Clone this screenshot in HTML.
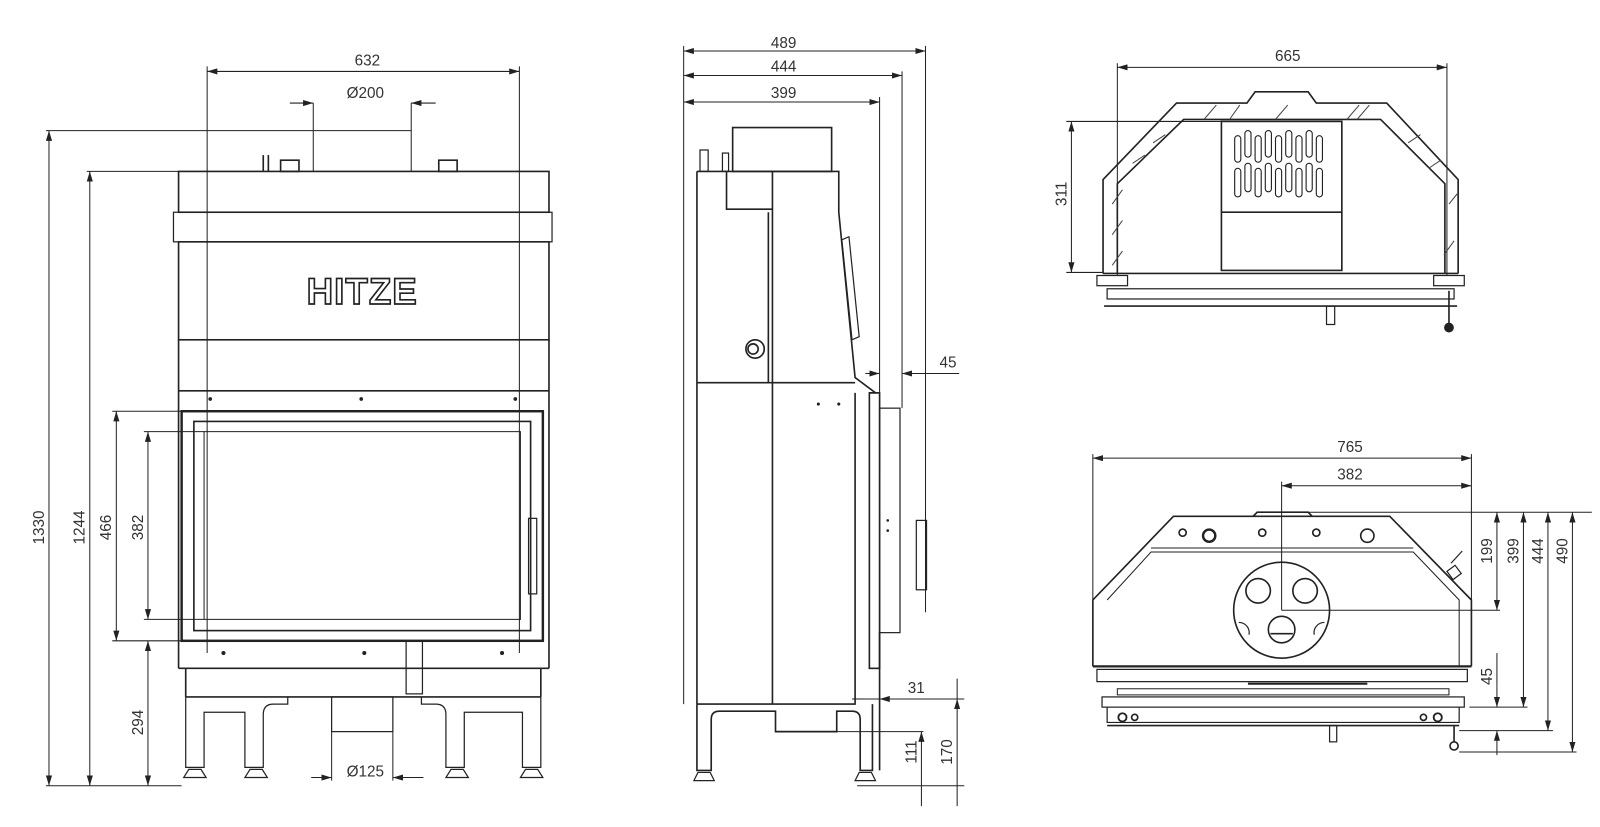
<!DOCTYPE html>
<html><head><meta charset="utf-8"><style>
html,body{margin:0;padding:0;background:#fff;width:1600px;height:827px;overflow:hidden}
svg{display:block}
text{font-family:"Liberation Sans",sans-serif;font-size:15px;fill:#333}
</style></head><body>
<svg width="1600" height="827" viewBox="0 0 1600 827" xmlns="http://www.w3.org/2000/svg">
<defs>
<marker id="a" viewBox="0 0 10 6" refX="10" refY="3" markerWidth="10" markerHeight="6" orient="auto-start-reverse" markerUnits="userSpaceOnUse"><path d="M0,0 L10,3 L0,6z" fill="#222"/></marker>
</defs>
<g transform="scale(1.0204)" fill="none" stroke="#222" stroke-width="1">
<!-- ============ FRONT VIEW ============ -->
<g stroke-width="1">
<!-- dims -->
<line x1="203" y1="70" x2="509" y2="70" marker-start="url(#a)" marker-end="url(#a)"/>
<line x1="203" y1="65" x2="203" y2="640"/><line x1="509" y1="65" x2="509" y2="640"/>
<line x1="284" y1="101" x2="307" y2="101" marker-end="url(#a)"/><line x1="427" y1="101" x2="403" y2="101" marker-end="url(#a)"/>
<line x1="307" y1="101" x2="307" y2="168"/><line x1="403" y1="101" x2="403" y2="168"/>
<line x1="45" y1="128" x2="403" y2="128"/>
<line x1="48" y1="128" x2="48" y2="770" marker-start="url(#a)" marker-end="url(#a)"/>
<line x1="85" y1="168" x2="175" y2="168"/>
<line x1="88" y1="168" x2="88" y2="770" marker-start="url(#a)" marker-end="url(#a)"/>
<line x1="45" y1="770" x2="178" y2="770"/>
<line x1="114" y1="403" x2="114" y2="628" marker-start="url(#a)" marker-end="url(#a)"/>
<line x1="110" y1="403" x2="182" y2="403"/><line x1="110" y1="628" x2="182" y2="628"/>
<line x1="145" y1="423" x2="145" y2="607" marker-start="url(#a)" marker-end="url(#a)"/>
<line x1="141" y1="423" x2="200" y2="423"/><line x1="141" y1="607" x2="200" y2="607"/>
<line x1="145" y1="628" x2="145" y2="770" marker-start="url(#a)" marker-end="url(#a)"/>
<line x1="305" y1="762" x2="325" y2="762" marker-end="url(#a)"/><line x1="415" y1="762" x2="385" y2="762" marker-end="url(#a)"/>
<line x1="325" y1="717" x2="325" y2="765"/><line x1="385" y1="717" x2="385" y2="765"/>
</g>
<g stroke-width="1.6">
<rect x="175" y="168" width="363" height="40"/>
<rect x="170" y="208" width="371" height="29" stroke-width="1.2"/>
<rect x="175" y="237" width="363" height="96"/>
<line x1="175" y1="333" x2="175" y2="655"/><line x1="538" y1="333" x2="538" y2="655"/>
<line x1="175" y1="383" x2="538" y2="383"/>
<line x1="175" y1="655" x2="538" y2="655"/>
<rect x="178" y="403" width="354" height="225" stroke-width="2.4"/>
<rect x="190" y="413" width="330" height="205"/>
<rect x="200" y="423" width="310" height="184" stroke-width="1"/>
<rect x="518" y="508" width="8" height="74" stroke-width="1.2"/>
<line x1="182" y1="655" x2="182" y2="683"/><line x1="530" y1="655" x2="530" y2="683"/>
<line x1="182" y1="683" x2="530" y2="683"/>
<rect x="398" y="628" width="16" height="52" stroke-width="1.2"/>
<path d="M182 683 V752 H200 V698 H240 V752 H258 V700 Q258 690 268 690 H282 V683" stroke-width="1.2"/>
<path d="M530 683 V752 H512 V698 H455 V752 H437 V700 Q437 690 427 690 H413 V683" stroke-width="1.2"/>
<rect x="325" y="683" width="60" height="34" stroke-width="1.2"/>
<path d="M180 762 l5 -8 h12 l5 8z M240 762 l5 -8 h12 l5 8z M437 762 l5 -8 h12 l5 8z M510 762 l5 -8 h12 l5 8z" stroke-width="1.2"/>
<line x1="258" y1="152" x2="258" y2="168"/><line x1="263" y1="152" x2="263" y2="168"/>
<rect x="275" y="157" width="18" height="11"/><rect x="430" y="157" width="18" height="11"/>
</g>
<g fill="#222" stroke="none">
<circle cx="206" cy="391" r="1.8"/><circle cx="354" cy="391" r="1.8"/><circle cx="505" cy="391" r="1.8"/>
<circle cx="219" cy="640" r="2"/><circle cx="357" cy="640" r="2"/><circle cx="492" cy="640" r="2"/>
</g>
<text x="355" y="298" text-anchor="middle" style="font-size:36px;font-weight:bold;fill:#fff;stroke:#222;stroke-width:1.6;letter-spacing:1px">HITZE</text>
<!-- ============ SIDE VIEW ============ -->
<g stroke-width="1">
<line x1="670" y1="50" x2="907" y2="50" marker-start="url(#a)" marker-end="url(#a)"/>
<line x1="670" y1="74" x2="884" y2="74" marker-start="url(#a)" marker-end="url(#a)"/>
<line x1="670" y1="100" x2="862" y2="100" marker-start="url(#a)" marker-end="url(#a)"/>
<line x1="670" y1="45" x2="670" y2="690"/>
<line x1="907" y1="45" x2="907" y2="600"/>
<line x1="884" y1="70" x2="884" y2="400"/>
<line x1="862" y1="95" x2="862" y2="460"/>
<line x1="848" y1="366" x2="862" y2="366" marker-end="url(#a)"/><line x1="940" y1="366" x2="884" y2="366" marker-end="url(#a)"/>
<line x1="840" y1="685" x2="848" y2="685"/><line x1="915" y1="685" x2="862" y2="685" marker-end="url(#a)"/>
<line x1="835" y1="685" x2="945" y2="685"/>
<line x1="820" y1="717" x2="905" y2="717"/>
<line x1="840" y1="770" x2="945" y2="770"/>
<line x1="903" y1="717" x2="903" y2="790" marker-start="url(#a)"/>
<line x1="938" y1="665" x2="938" y2="685" /><line x1="938" y1="685" x2="938" y2="790" marker-start="url(#a)"/>
</g>
<g stroke-width="1.6">
<rect x="718" y="125" width="97" height="43"/>
<rect x="686" y="147" width="8" height="21" stroke-width="1.2"/><rect x="708" y="150" width="6" height="18" stroke-width="1.2"/>
<path d="M683 168 H822 V208 L838 370 L858 385 H852"/>
<path d="M712 168 V205 H757"/><line x1="757" y1="168" x2="757" y2="690"/><line x1="753" y1="208" x2="753" y2="375"/>
<line x1="683" y1="168" x2="683" y2="690"/>
<line x1="683" y1="375" x2="838" y2="375"/>
<path d="M683 690 H838 V385"/>
<rect x="852" y="385" width="10" height="270"/>
<rect x="862" y="400" width="20" height="220" stroke-width="1.2"/>
<rect x="898" y="510" width="10" height="68" stroke-width="1.2"/>
<path d="M825 235 L832 232 L842 330 L835 333z" stroke-width="1.2"/>
<circle cx="740" cy="342" r="9"/><circle cx="738" cy="342" r="5"/>
<path d="M683 690 V755 H697 V705 Q697 697 705 697 H760 V717 H820 V697 H835 Q843 697 843 705 V755 H855 V690"/>
<path d="M680 765 l4 -8 h12 l4 8z M838 765 l4 -8 h12 l4 8z" stroke-width="1.2"/>
<line x1="862" y1="620" x2="862" y2="755"/>
</g>
<g fill="#222" stroke="none"><circle cx="802" cy="396" r="1.5"/><circle cx="822" cy="396" r="1.5"/><circle cx="870" cy="510" r="1.3"/><circle cx="870" cy="520" r="1.3"/></g>
<!-- ============ TOP VIEW ============ -->
<g stroke-width="1">
<line x1="1095" y1="66" x2="1418" y2="66" marker-start="url(#a)" marker-end="url(#a)"/>
<line x1="1095" y1="62" x2="1095" y2="270"/><line x1="1418" y1="62" x2="1418" y2="270"/>
<line x1="1045" y1="119" x2="1197" y2="119"/><line x1="1045" y1="267" x2="1081" y2="267"/>
<line x1="1050" y1="119" x2="1050" y2="267" marker-start="url(#a)" marker-end="url(#a)"/>
</g>
<g stroke-width="1.6">
<path d="M1081 268 V176 L1153 101 H1222 L1230 90 H1282 L1290 101 H1359 L1429 176 V268"/>
<path d="M1095 268 V180 L1160 117 H1353 L1416 180 V268"/>
<rect x="1197" y="119" width="118" height="146"/>
<line x1="1197" y1="208" x2="1315" y2="208"/>
<line x1="1081" y1="268" x2="1429" y2="268"/>
<rect x="1075" y="270" width="30" height="10" stroke-width="1.2"/><rect x="1405" y="270" width="30" height="10" stroke-width="1.2"/>
<rect x="1085" y="283" width="340" height="10" stroke-width="1.2"/>
<line x1="1082" y1="300" x2="1428" y2="300"/>
<rect x="1300" y="300" width="8" height="18" stroke-width="1.2"/>
<line x1="1420" y1="285" x2="1420" y2="318"/><circle cx="1420" cy="321" r="4" fill="#222"/>
</g>
<g stroke-width="1" stroke="#444">
<path d="M1090 260 l10 -14 M1090 230 l10 -14 M1090 200 l10 -14 M1180 117 l12 -14 M1250 117 l12 -14 M1320 117 l12 -14 M1330 117 l12 -14 M1205 117 l10 -14 M1415 250 l10 -14 M1420 200 l8 -10 M1400 165 l12 -8 M1380 140 l12 -8 M1110 160 l12 -8 M1130 140 l12 -8"/>
</g>
<g stroke-width="1.1">
<rect x="1210" y="133" width="6" height="26" rx="3"/><rect x="1220" y="128" width="6" height="26" rx="3"/><rect x="1230" y="133" width="6" height="26" rx="3"/><rect x="1240" y="128" width="6" height="26" rx="3"/><rect x="1250" y="133" width="6" height="26" rx="3"/><rect x="1260" y="128" width="6" height="26" rx="3"/><rect x="1270" y="133" width="6" height="26" rx="3"/><rect x="1280" y="128" width="6" height="26" rx="3"/><rect x="1290" y="133" width="6" height="26" rx="3"/>
<rect x="1210" y="165" width="6" height="28" rx="3"/><rect x="1220" y="160" width="6" height="28" rx="3"/><rect x="1230" y="165" width="6" height="28" rx="3"/><rect x="1240" y="160" width="6" height="28" rx="3"/><rect x="1250" y="165" width="6" height="28" rx="3"/><rect x="1260" y="160" width="6" height="28" rx="3"/><rect x="1270" y="165" width="6" height="28" rx="3"/><rect x="1280" y="160" width="6" height="28" rx="3"/><rect x="1290" y="165" width="6" height="28" rx="3"/>
</g>
<!-- ============ BOTTOM VIEW ============ -->
<g stroke-width="1">
<line x1="1071" y1="449" x2="1442" y2="449" marker-start="url(#a)" marker-end="url(#a)"/>
<line x1="1071" y1="445" x2="1071" y2="588"/><line x1="1442" y1="445" x2="1442" y2="588"/>
<line x1="1256" y1="476" x2="1442" y2="476" marker-start="url(#a)" marker-end="url(#a)"/>
<line x1="1256" y1="472" x2="1256" y2="598"/>
<line x1="1260" y1="502" x2="1560" y2="502"/>
<line x1="1256" y1="598" x2="1470" y2="598"/>
<line x1="1467" y1="502" x2="1467" y2="598" marker-start="url(#a)" marker-end="url(#a)"/>
<line x1="1440" y1="693" x2="1497" y2="693"/>
<line x1="1493" y1="502" x2="1493" y2="693" marker-start="url(#a)" marker-end="url(#a)"/>
<line x1="1430" y1="716" x2="1522" y2="716"/>
<line x1="1517" y1="502" x2="1517" y2="716" marker-start="url(#a)" marker-end="url(#a)"/>
<line x1="1430" y1="737" x2="1545" y2="737"/>
<line x1="1541" y1="502" x2="1541" y2="737" marker-start="url(#a)" marker-end="url(#a)"/>
<line x1="1467" y1="640" x2="1467" y2="673" /><line x1="1467" y1="673" x2="1467" y2="693" marker-end="url(#a)"/><line x1="1467" y1="740" x2="1467" y2="716" marker-end="url(#a)"/>
</g>
<g stroke-width="1.6">
<path d="M1228 506 L1232 502 H1282 L1286 506"/>
<path d="M1071 653 V588 L1150 506 H1362 L1442 588 V653"/>
<path d="M1085 588 L1128 541 H1385 L1430 588 V653" stroke-width="1"/>
<line x1="1128" y1="537" x2="1385" y2="537" stroke-width="1"/>
<circle cx="1256" cy="598" r="47"/>
<circle cx="1233" cy="579" r="12"/><circle cx="1279" cy="579" r="12"/><circle cx="1256" cy="617" r="13"/>
<path d="M1245 621 H1267" />
<path d="M1214 610 a10 10 0 0 1 10 12 M1298 610 a10 10 0 0 0 -10 12" stroke-width="1.2"/>
<circle cx="1159" cy="522" r="3.5"/><circle cx="1185" cy="525" r="6" stroke-width="2.4"/><circle cx="1237" cy="522" r="3.5"/><circle cx="1290" cy="522" r="3.5"/><circle cx="1340" cy="525" r="6.5"/>
<line x1="1071" y1="653" x2="1442" y2="653" stroke-width="2.2"/>
<rect x="1075" y="656" width="363" height="12" stroke-width="1.2"/>
<line x1="1223" y1="670" x2="1340" y2="670" stroke-width="2"/>
<rect x="1095" y="675" width="325" height="6" stroke-width="1"/>
<rect x="1080" y="683" width="355" height="10" stroke-width="1.2"/>
<path d="M1085 693 V708 H1430 V693" stroke-width="1.2"/>
<line x1="1085" y1="711" x2="1430" y2="711"/>
<rect x="1303" y="711" width="7" height="16" stroke-width="1.2"/>
<line x1="1425" y1="711" x2="1425" y2="727"/><circle cx="1425" cy="731" r="4"/>
<path d="M1422 552 L1433 540 M1418 560 l8 -6 l6 8 l-8 6z" stroke-width="1.2"/>
<circle cx="1100" cy="703" r="4" stroke-width="1.8"/><circle cx="1112" cy="703" r="3"/><circle cx="1395" cy="703" r="3"/><circle cx="1409" cy="703" r="4" stroke-width="1.8"/>
</g>
</g>
<!-- ============ TEXT (scaled coords) ============ -->
<g transform="scale(1.0204)">
<text x="360" y="64" text-anchor="middle">632</text>
<text x="358" y="96" text-anchor="middle">Ø200</text>
<text x="358" y="761" text-anchor="middle">Ø125</text>
<text transform="translate(43,517) rotate(-90)" text-anchor="middle">1330</text>
<text transform="translate(83,517) rotate(-90)" text-anchor="middle">1244</text>
<text transform="translate(109,517) rotate(-90)" text-anchor="middle">466</text>
<text transform="translate(140,517) rotate(-90)" text-anchor="middle">382</text>
<text transform="translate(140,708) rotate(-90)" text-anchor="middle">294</text>
<text x="768" y="47" text-anchor="middle">489</text>
<text x="768" y="70" text-anchor="middle">444</text>
<text x="768" y="96" text-anchor="middle">399</text>
<text x="929" y="360" text-anchor="middle">45</text>
<text x="898" y="679" text-anchor="middle">31</text>
<text transform="translate(898,737) rotate(-90)" text-anchor="middle">111</text>
<text transform="translate(933,737) rotate(-90)" text-anchor="middle">170</text>
<text x="1262" y="60" text-anchor="middle">665</text>
<text transform="translate(1045,190) rotate(-90)" text-anchor="middle">311</text>
<text x="1323" y="443" text-anchor="middle">765</text>
<text x="1323" y="470" text-anchor="middle">382</text>
<text transform="translate(1462,540) rotate(-90)" text-anchor="middle">199</text>
<text transform="translate(1488,540) rotate(-90)" text-anchor="middle">399</text>
<text transform="translate(1512,540) rotate(-90)" text-anchor="middle">444</text>
<text transform="translate(1536,540) rotate(-90)" text-anchor="middle">490</text>
<text transform="translate(1462,663) rotate(-90)" text-anchor="middle">45</text>
</g>
</svg>
</body></html>
